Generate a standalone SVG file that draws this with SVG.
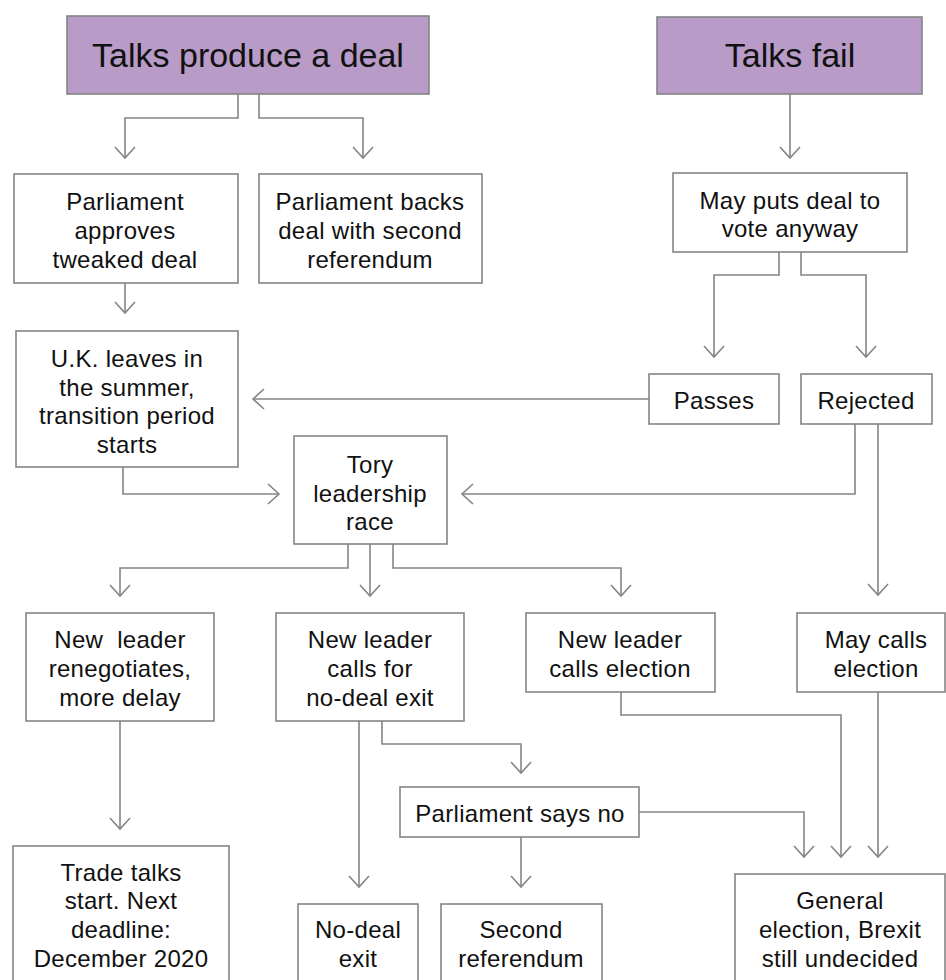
<svg xmlns="http://www.w3.org/2000/svg" width="946" height="980" viewBox="0 0 946 980">
<style>
.box{fill:#fff;stroke:#858585;stroke-width:1.6}
.head{fill:#b89bc7;stroke:#858585;stroke-width:1.6}
.t{font-family:"Liberation Sans",Arial,sans-serif;font-size:24px;fill:#111;text-anchor:middle;letter-spacing:0.3px}
.h{font-family:"Liberation Sans",Arial,sans-serif;font-size:34px;fill:#111;text-anchor:middle}
.c{fill:none;stroke:#858585;stroke-width:1.6;marker-end:url(#ah)}
</style>
<defs>
<marker id="ah" markerUnits="userSpaceOnUse" markerWidth="28" markerHeight="28" viewBox="-14 -14 28 28" refX="0" refY="0" orient="auto" overflow="visible">
<path d="M-11,-10 L0,0 L-11,10" fill="none" stroke="#858585" stroke-width="1.6"/>
</marker>
</defs>
<rect width="946" height="980" fill="#fff"/>
<g id="connectors">
<path class="c" d="M238,94 V118 H125 V158"/>
<path class="c" d="M259,94 V118 H363 V158"/>
<path class="c" d="M790,94 V158"/>
<path class="c" d="M125,283 V313"/>
<path class="c" d="M779,252 V275 H714 V357"/>
<path class="c" d="M801,252 V275 H866 V357"/>
<path class="c" d="M649,399 H253"/>
<path class="c" d="M123,467 V494 H279"/>
<path class="c" d="M855,424 V494 H462"/>
<path class="c" d="M878,424 V595"/>
<path class="c" d="M348,544 V568 H120 V596"/>
<path class="c" d="M370,544 V596"/>
<path class="c" d="M393,544 V568 H621 V596"/>
<path class="c" d="M120,721 V829"/>
<path class="c" d="M359,721 V887"/>
<path class="c" d="M382,721 V744 H521 V773"/>
<path class="c" d="M521,837 V887"/>
<path class="c" d="M639,812 H804 V857"/>
<path class="c" d="M621,692 V715 H841 V857"/>
<path class="c" d="M878,692 V857"/>
</g>
<g id="talks-deal"><rect class="head" x="67" y="16" width="362" height="78"/><text class="h" x="248" y="67">Talks produce a deal</text></g>
<g id="talks-fail"><rect class="head" x="657" y="17" width="265" height="77"/><text class="h" x="790" y="67">Talks fail</text></g>
<g id="parl-approves"><rect class="box" x="14" y="174" width="224" height="109"/>
<text class="t" x="125" y="210">Parliament</text><text class="t" x="125" y="239">approves</text><text class="t" x="125" y="268">tweaked deal</text></g>
<g id="parl-backs"><rect class="box" x="259" y="174" width="223" height="109"/>
<text class="t" x="370" y="210">Parliament backs</text><text class="t" x="370" y="239">deal with second</text><text class="t" x="370" y="268">referendum</text></g>
<g id="may-puts"><rect class="box" x="673" y="173" width="234" height="79"/>
<text class="t" x="790" y="209">May puts deal to</text><text class="t" x="790" y="237">vote anyway</text></g>
<g id="uk-leaves"><rect class="box" x="16" y="331" width="222" height="136"/>
<text class="t" x="127" y="367">U.K. leaves in</text><text class="t" x="127" y="396">the summer,</text><text class="t" x="127" y="424">transition period</text><text class="t" x="127" y="453">starts</text></g>
<g id="passes"><rect class="box" x="649" y="374" width="130" height="50"/><text class="t" x="714" y="409">Passes</text></g>
<g id="rejected"><rect class="box" x="801" y="374" width="131" height="50"/><text class="t" x="866" y="409">Rejected</text></g>
<g id="tory"><rect class="box" x="294" y="436" width="153" height="108"/>
<text class="t" x="370" y="473">Tory</text><text class="t" x="370" y="502">leadership</text><text class="t" x="370" y="530">race</text></g>
<g id="renegotiates"><rect class="box" x="26" y="613" width="188" height="108"/>
<text class="t" x="120" y="648" xml:space="preserve">New  leader</text><text class="t" x="120" y="677">renegotiates,</text><text class="t" x="120" y="706">more delay</text></g>
<g id="nodeal-call"><rect class="box" x="276" y="613" width="188" height="108"/>
<text class="t" x="370" y="648">New leader</text><text class="t" x="370" y="677">calls for</text><text class="t" x="370" y="706">no-deal exit</text></g>
<g id="nl-election"><rect class="box" x="526" y="613" width="189" height="79"/>
<text class="t" x="620" y="648">New leader</text><text class="t" x="620" y="677">calls election</text></g>
<g id="may-election"><rect class="box" x="797" y="613" width="148" height="79"/>
<text class="t" x="876" y="648">May calls</text><text class="t" x="876" y="677">election</text></g>
<g id="parl-no"><rect class="box" x="400" y="787" width="239" height="50"/><text class="t" x="520" y="822">Parliament says no</text></g>
<g id="trade"><rect class="box" x="13" y="846" width="216" height="140"/>
<text class="t" x="121" y="881">Trade talks</text><text class="t" x="121" y="909">start. Next</text><text class="t" x="121" y="938">deadline:</text><text class="t" x="121" y="967">December 2020</text></g>
<g id="nodeal-exit"><rect class="box" x="298" y="904" width="120" height="82"/>
<text class="t" x="358" y="938">No-deal</text><text class="t" x="358" y="967">exit</text></g>
<g id="second-ref"><rect class="box" x="441" y="904" width="161" height="82"/>
<text class="t" x="521" y="938">Second</text><text class="t" x="521" y="967">referendum</text></g>
<g id="general"><rect class="box" x="735" y="874" width="210" height="112"/>
<text class="t" x="840" y="909">General</text><text class="t" x="840" y="938">election, Brexit</text><text class="t" x="840" y="967">still undecided</text></g>
</svg>
